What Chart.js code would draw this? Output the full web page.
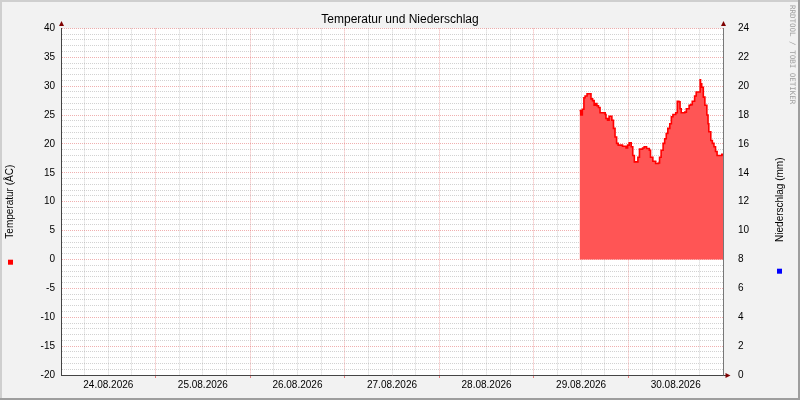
<!DOCTYPE html>
<html><head><meta charset="utf-8">
<script src="https://cdn.jsdelivr.net/npm/chart.js@4.4.1/dist/chart.umd.min.js"></script>
<style>html,body{margin:0;padding:0;background:#F2F2F2;overflow:hidden;} #wrap{width:800px;height:400px;position:relative;}</style>
</head><body><div id="wrap"><canvas id="c" width="800" height="400"></canvas></div>
<script>
const titleText = 'Temperatur und Niederschlag';
const leftAxisTitle = 'Temperatur (ÅC)';
const rightAxisTitle = 'Niederschlag (mm)';
const watermark = 'RRDTOOL / TOBI OETIKER';
const dayLabels = ['24.08.2026','25.08.2026','26.08.2026','27.08.2026','28.08.2026','29.08.2026','30.08.2026'];
// hours since 24.08.2026 00:00
const hours = [131.6,131.9,132.3,132.7,133.0,133.5,134.5,134.9,135.3,135.6,136.0,136.4,136.8,138.1,138.3,138.7,139.1,139.8,140.2,140.6,141.0,141.4,142.5,143.4,143.8,144.2,144.7,145.1,145.5,146.4,146.8,147.6,148.0,148.6,149.3,149.6,150.2,150.9,151.6,151.9,152.3,152.8,153.2,153.6,154.0,154.5,154.9,155.3,156.0,156.4,156.8,157.1,157.4,158.3,158.7,159.4,159.8,160.2,160.8,161.2,161.9,162.2,162.3,162.6,163.0,163.4,163.9,164.2,164.4,164.9,165.3,165.7,166.1,166.5,167.2,167.7,168.0];
const temperature = [25.8,25.0,26.0,28.0,28.3,28.7,27.8,27.5,26.7,27.0,26.6,26.3,25.4,25.1,24.4,24.1,24.8,24.1,22.7,21.2,20.1,19.8,19.6,19.3,19.8,20.2,19.5,18.0,16.9,17.7,19.1,19.3,19.5,19.2,18.9,17.7,17.0,16.6,16.7,17.7,18.9,20.1,20.9,21.8,22.7,23.5,24.7,25.1,25.4,27.4,27.3,26.1,25.4,25.5,26.1,26.7,26.8,27.4,28.3,29.0,29.0,31.1,30.4,29.8,28.1,26.7,25.0,23.5,22.1,20.6,20.1,19.5,18.7,18.0,18.0,18.2,18.0];
const precipitation = [];
const tempRange = [-20, 40];
const precipRange = [0, 24];
const hourRange = [0, 168];

const FONT = 'Liberation Sans, Arial, sans-serif';
const GRID = 'rgba(143,143,143,0.4)';
const MGRID = 'rgba(222,79,79,0.45)';
const ARROW = '#7f0000';
const NONE = 'rgba(0,0,0,0)';

const decor = {
  id: 'decor',
  beforeDraw(chart) {
    const {ctx, chartArea: a, width: W, height: H} = chart;
    ctx.save();
    ctx.fillStyle = '#F2F2F2';
    ctx.fillRect(0, 0, W, H);
    ctx.fillStyle = '#CFCFCF';
    ctx.fillRect(0, 0, W, 2);
    ctx.fillRect(0, 0, 2, H);
    ctx.fillStyle = '#9E9E9E';
    ctx.fillRect(0, H - 2, W, 2);
    ctx.fillRect(W - 2, 0, 2, H);
    ctx.fillStyle = '#FFFFFF';
    ctx.fillRect(a.left, a.top, a.right - a.left, a.bottom - a.top);
    ctx.restore();
  },
  afterDraw(chart) {
    const {ctx, chartArea: a} = chart;
    ctx.save();
    ctx.fillStyle = ARROW;
    const l = Math.round(a.left) + 0.5, r = Math.round(a.right) + 0.5, b = Math.round(a.bottom) + 0.5;
    ctx.beginPath(); ctx.moveTo(l - 2.5, a.top - 2.5); ctx.lineTo(l + 2.5, a.top - 2.5); ctx.lineTo(l, a.top - 7.5); ctx.closePath(); ctx.fill();
    ctx.beginPath(); ctx.moveTo(r - 2.5, a.top - 2.5); ctx.lineTo(r + 2.5, a.top - 2.5); ctx.lineTo(r, a.top - 7.5); ctx.closePath(); ctx.fill();
    ctx.strokeStyle = '#444'; ctx.lineWidth = 1;
    ctx.beginPath(); ctx.moveTo(r, b); ctx.lineTo(r + 3, b); ctx.stroke();
    ctx.beginPath(); ctx.moveTo(r + 2, b - 2.5); ctx.lineTo(r + 2, b + 2.5); ctx.lineTo(r + 7, b); ctx.closePath(); ctx.fill();
    const yMid = (a.top + a.bottom) / 2;
    ctx.fillStyle = '#FF0000';
    ctx.fillRect(8, yMid + 58, 5, 5);
    ctx.fillStyle = '#0000FF';
    ctx.fillRect(777, yMid + 67, 5, 5);
    ctx.fillStyle = '#000';
    ctx.font = '10px ' + FONT;
    ctx.textAlign = 'center';
    ctx.textBaseline = 'middle';
    ctx.translate(780, yMid - 2);
    ctx.rotate(-Math.PI / 2);
    ctx.fillText(rightAxisTitle, 0, 0);
    ctx.restore();
    ctx.save();
    ctx.fillStyle = '#A0A0A0';
    ctx.font = '7.5px DejaVu Sans Mono, monospace';
    ctx.textAlign = 'left';
    ctx.textBaseline = 'middle';
    ctx.translate(792, 5);
    ctx.rotate(Math.PI / 2);
    ctx.fillText(watermark, 0, 0);
    ctx.restore();
  }
};

const isInt = v => Math.abs(v - Math.round(v)) < 1e-6;

new Chart(document.getElementById('c'), {
  type: 'line',
  data: {
    datasets: [{
      label: 'Temperatur',
      data: hours.map((h, i) => ({x: h, y: temperature[i]})),
      yAxisID: 'y',
      borderColor: '#FF0000',
      backgroundColor: 'rgb(255,85,85)',
      borderWidth: 1.6,
      pointRadius: 0,
      stepped: 'before',
      fill: 'origin'
    }, {
      label: 'Niederschlag',
      data: precipitation,
      yAxisID: 'y1',
      borderColor: '#0000FF',
      backgroundColor: '#0000FF',
      pointRadius: 0
    }]
  },
  options: {
    responsive: false,
    animation: false,
    devicePixelRatio: 1,
    layout: {padding: 0},
    plugins: {
      legend: {display: false},
      tooltip: {enabled: false},
      title: {
        display: true, text: titleText, color: '#000',
        font: {family: FONT, size: 12, weight: 'normal'},
        padding: {top: 12, bottom: 2}
      }
    },
    scales: {
      x: {
        type: 'linear', min: hourRange[0], max: hourRange[1],
        afterFit(s) { s.height = 25; },
        ticks: {
          stepSize: 6, autoSkip: false, maxRotation: 0, padding: 1, color: '#000',
          font: {family: FONT, size: 10},
          callback: v => (v % 24 === 12 ? dayLabels[(v - 12) / 24] : '')
        },
        grid: {
          color: c => (c.tick && c.tick.value % 24 === 0 ? MGRID : GRID),
          tickColor: c => (c.tick && c.tick.value % 24 === 0 && c.tick.value > 0 && c.tick.value < 168 ? 'rgba(222,79,79,0.7)' : NONE),
          tickLength: 3, tickBorderDash: []
        },
        border: {display: true, color: '#444', width: 1, dash: [1, 1]}
      },
      y: {
        position: 'left', min: tempRange[0], max: tempRange[1],
        afterFit(s) { s.width = 61; },
        ticks: {
          stepSize: 1, autoSkip: false, maxTicksLimit: 100, padding: 3, color: '#000',
          font: {family: FONT, size: 10},
          callback: v => (v % 5 === 0 ? String(v) : '')
        },
        grid: {
          color: c => (c.tick && c.tick.value % 5 === 0 ? MGRID : GRID),
          tickColor: NONE, tickLength: 3, tickBorderDash: []
        },
        border: {display: true, color: '#444', width: 1, dash: [1, 1]},
        title: {display: true, text: leftAxisTitle, color: '#000', font: {family: FONT, size: 10}, padding: {top: 4, bottom: 0}}
      },
      y1: {
        position: 'right', min: precipRange[0], max: precipRange[1],
        afterFit(s) { s.width = 77; },
        ticks: {
          stepSize: 2, autoSkip: false, maxTicksLimit: 100, padding: 12, color: '#000',
          font: {family: FONT, size: 10},
          callback: v => (isInt(v) ? String(Math.round(v)) : '')
        },
        grid: {drawOnChartArea: false, tickColor: NONE, tickLength: 3, tickBorderDash: []},
        border: {display: true, color: '#777', width: 1}
      }
    }
  },
  plugins: [decor]
});
</script>
</body></html>
